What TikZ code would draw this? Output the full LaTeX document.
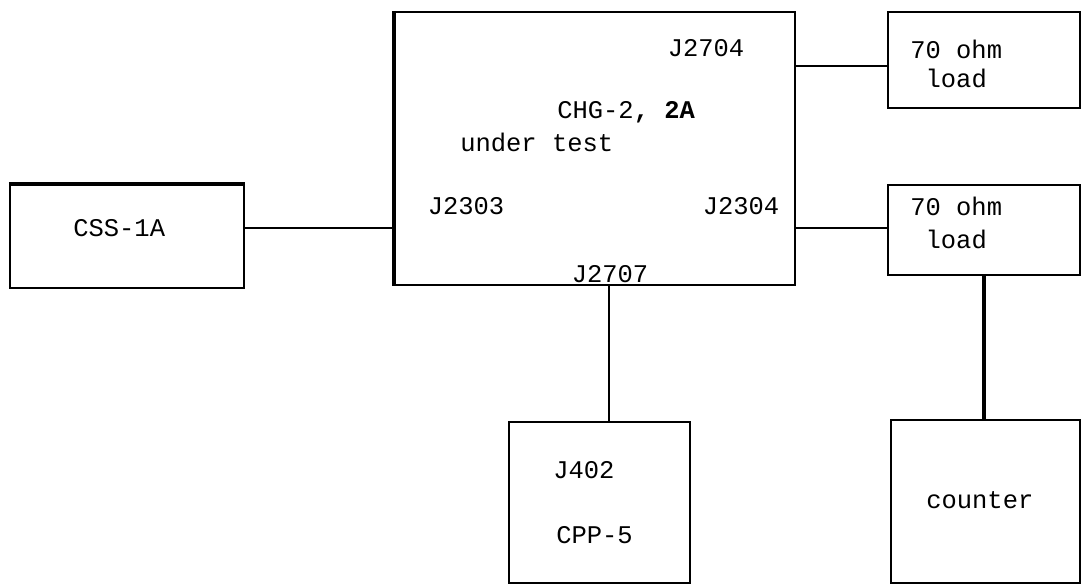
\documentclass[tikz,border=0pt]{standalone}
\usepackage{fontspec}
\setmonofont{Liberation Mono}
\usepackage{tikz}
\usetikzlibrary{positioning}

\tikzset{
  unit/.style={draw, rectangle, line width=1.4pt, inner sep=0pt},
  lbl/.style={font=\ttfamily\fontsize{14.5}{16.5}\selectfont, inner sep=0pt, align=left},
  wire/.style={line width=1.2pt}
}

\begin{document}
\begin{tikzpicture}[x=0.02cm, y=-0.02cm]
  \useasboundingbox (0,0) rectangle (1083,585);
  % boxes
  \node[unit, minimum width=4.68cm, minimum height=2.06cm] (css) at (127,236.5) {};
  \draw[line width=2.4pt] (css.north west) -- (css.north east);
  \node[unit, minimum width=8.0cm, minimum height=5.46cm] (chg) at (595,148.5) {};
  \draw[line width=2.2pt] (chg.north west) -- (chg.south west);
  \node[unit, minimum width=3.84cm, minimum height=1.92cm] (loadA) at (984,60) {};
  \node[unit, minimum width=3.84cm, minimum height=1.8cm] (loadB) at (984,230) {};
  \node[unit, minimum width=3.62cm, minimum height=3.22cm] (cpp) at (599.5,502.5) {};
  \node[unit, minimum width=3.78cm, minimum height=3.26cm] (cnt) at (985.5,501.5) {};
  % texts
  \node[lbl, anchor=west] (tcss) at (73,228) {CSS-1A};
  \node[lbl] (tJ2704) at (706,48) {J2704};
  \node[lbl, anchor=west] (tchg) at (557,112) {CHG-2\textbf{, 2A}};
  \node[lbl, anchor=west] (tund) at (460,142) {under test};
  \node[lbl] (tJ2303) at (466,206) {J2303};
  \node[lbl] (tJ2304) at (741,206) {J2304};
  \node[lbl] (tJ2707) at (610,274) {J2707};
  \node[lbl, anchor=west] (tloadA) at (910,64) {70 ohm\\\phantom{7}load};
  \node[lbl, anchor=west] (tloadB) at (910,223) {70 ohm\\[2pt]\phantom{7}load};
  \node[lbl, anchor=west] (tJ402) at (553,470) {J402};
  \node[lbl, anchor=west] (tcpp) at (556,535) {CPP-5};
  \node[lbl, anchor=west] (tcnt) at (926,500) {counter};
  % wires
  \coordinate (wA) at (0,228);
  \coordinate (wB) at (0,66);
  \coordinate (wC) at (609,0);
  \draw[wire] (css.east |- wA) -- (chg.west |- wA);
  \draw[wire] (chg.east |- wB) -- (loadA.west |- wB);
  \draw[wire] (chg.east |- wA) -- (loadB.west |- wA);
  \draw[wire] (chg.south -| wC) -- (cpp.north -| wC);
  \draw[wire, line width=2.2pt] (loadB.south) -- (cnt.north -| loadB.south);
\end{tikzpicture}
\end{document}
